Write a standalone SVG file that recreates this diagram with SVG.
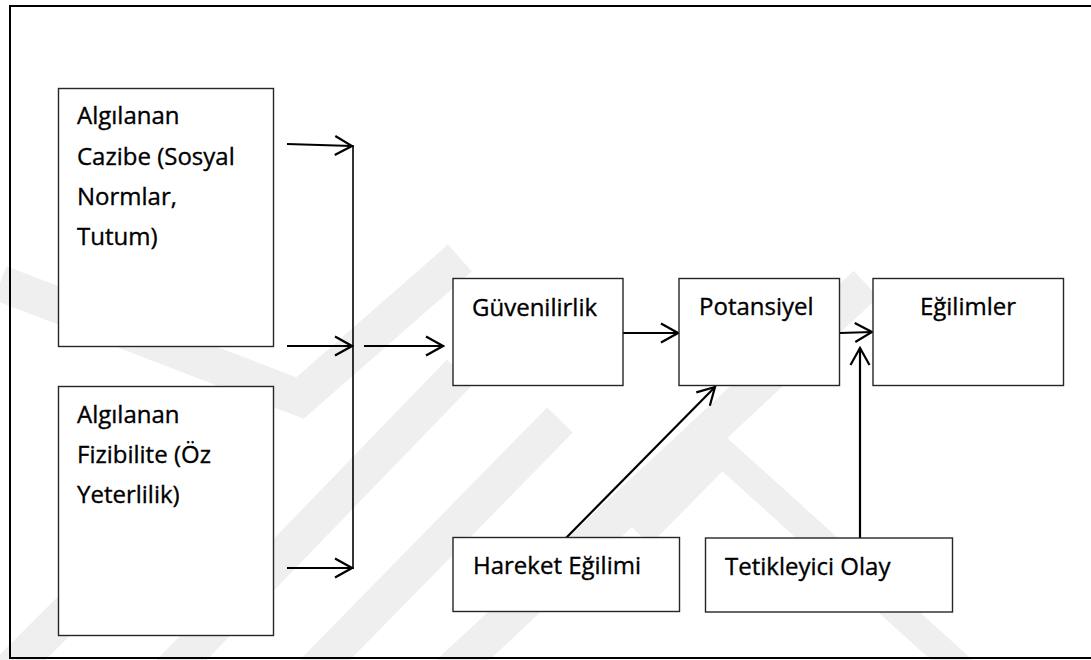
<svg xmlns="http://www.w3.org/2000/svg" width="1091" height="660" viewBox="0 0 1091 660">
<defs>
<style>
.wm{fill:none;stroke:#efefef;stroke-width:36;stroke-linejoin:miter}
.box{fill:#ffffff;stroke:#262626;stroke-width:1.4}
.lbl{font-family:"Open Sans","Liberation Sans",sans-serif;font-size:24px;fill:#000000;stroke:#000000;stroke-width:0.35}
.con{fill:none;stroke:#000000;stroke-width:2.2}
</style>
<marker id="ah" viewBox="-20 -12 22 24" refX="0" refY="0" markerWidth="22" markerHeight="24" markerUnits="userSpaceOnUse" orient="auto">
<path d="M-17,-9.5 L0,0 L-17,9.5" fill="none" stroke="#000000" stroke-width="2.2"/>
</marker>
</defs>
<rect x="0" y="0" width="1091" height="660" fill="#ffffff"/>
<g id="watermark">
<polyline class="wm" points="0,283 300,398 460,258"/>
<polyline class="wm" points="0,680 70,610"/>
<polyline class="wm" points="170,672 460,372"/>
<polyline class="wm" points="313,672 560,420"/>
<polyline class="wm" points="450,672 866,284"/>
<polyline class="wm" points="640,535 722,452 965,672" style="stroke-width:28"/>
</g>
<rect id="frame" x="10" y="6" width="1090" height="652" fill="none" stroke="#000000" stroke-width="2"/>
<g id="connectors">
<line class="con" x1="287" y1="144" x2="352" y2="146" marker-end="url(#ah)"/>
<line class="con" x1="287" y1="346" x2="352" y2="346" marker-end="url(#ah)"/>
<line class="con" x1="287" y1="568" x2="352" y2="568" marker-end="url(#ah)"/>
<line class="con" x1="353" y1="145" x2="353" y2="569" style="stroke-width:1.6"/>
<line class="con" x1="364" y1="346" x2="443" y2="346" marker-end="url(#ah)"/>
<line class="con" x1="623" y1="333" x2="678" y2="333" marker-end="url(#ah)"/>
<line class="con" x1="840" y1="333" x2="872" y2="332" marker-end="url(#ah)"/>
<line class="con" x1="566" y1="538" x2="715" y2="387" marker-end="url(#ah)"/>
<line class="con" x1="860" y1="538" x2="860" y2="348" marker-end="url(#ah)"/>
</g>
<g id="node-cazibe">
<rect class="box" x="58.5" y="88.5" width="215" height="258"/>
<text class="lbl" x="77" y="124">Algılanan</text>
<text class="lbl" x="77" y="165">Cazibe (Sosyal</text>
<text class="lbl" x="77" y="205">Normlar,</text>
<text class="lbl" x="77" y="245">Tutum)</text>
</g>
<g id="node-fizibilite">
<rect class="box" x="58.5" y="386.5" width="215" height="249"/>
<text class="lbl" x="77" y="423">Algılanan</text>
<text class="lbl" x="77" y="463">Fizibilite (Öz</text>
<text class="lbl" x="77" y="503">Yeterlilik)</text>
</g>
<g id="node-guvenilirlik">
<rect class="box" x="453" y="278.5" width="170" height="107"/>
<text class="lbl" x="472" y="316">Güvenilirlik</text>
</g>
<g id="node-potansiyel">
<rect class="box" x="679" y="278.5" width="160.5" height="107"/>
<text class="lbl" x="699" y="315">Potansiyel</text>
</g>
<g id="node-egilimler">
<rect class="box" x="873" y="278.5" width="190.5" height="107"/>
<text class="lbl" x="968" y="315" text-anchor="middle">Eğilimler</text>
</g>
<g id="node-hareket">
<rect class="box" x="453" y="537.5" width="226.5" height="74"/>
<text class="lbl" x="473" y="574">Hareket Eğilimi</text>
</g>
<g id="node-tetikleyici">
<rect class="box" x="705.5" y="538" width="247" height="74"/>
<text class="lbl" x="725" y="575">Tetikleyici Olay</text>
</g>
</svg>
